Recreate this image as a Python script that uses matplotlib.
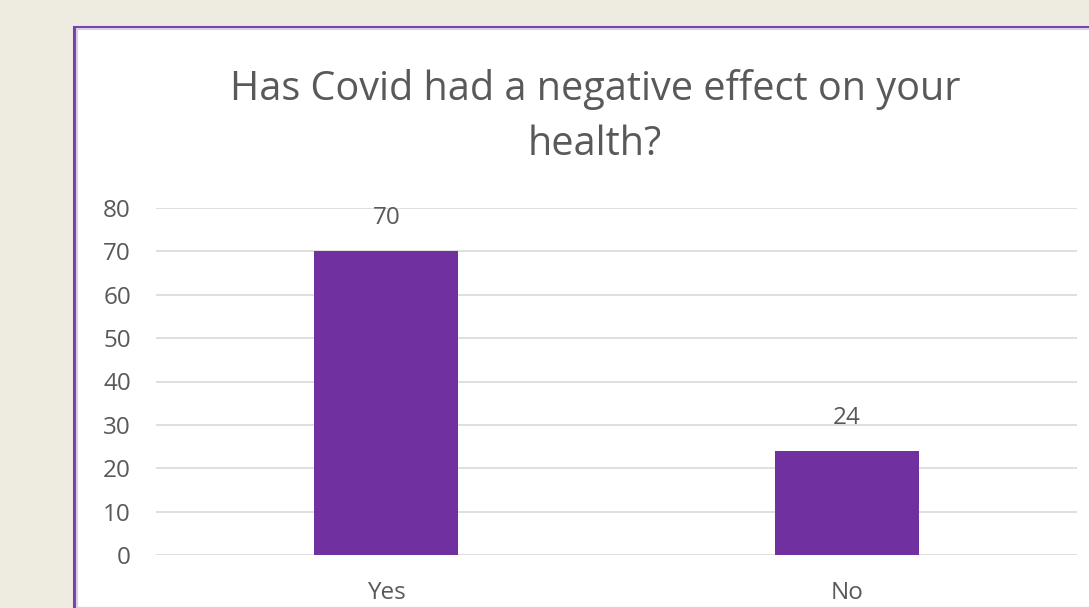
import matplotlib
matplotlib.use("Agg")
import matplotlib.pyplot as plt
from matplotlib.patches import Rectangle

categories = ["Yes", "No"]
counts = [70, 24]
y_ticks = [0, 10, 20, 30, 40, 50, 60, 70, 80]

plt.rcParams['font.family'] = ['Open Sans', 'DejaVu Sans']
text_color = '#595959'
bar_color = '#7030A0'

W, H = 1089, 608
fig = plt.figure(figsize=(W / 100, H / 100), dpi=100)
fig.patch.set_facecolor('#EEEBE0')

# white chart card with purple border, running off right/bottom edges
card = Rectangle((74 / W, 0), 1.2, 1 - 26.5 / H, transform=fig.transFigure,
                 facecolor='white', edgecolor='#7B3FB5', linewidth=2.2, zorder=0)
fig.patches.append(card)
shadow = Rectangle((76.5 / W, 0), 1.2, 1 - 29 / H, transform=fig.transFigure,
                   facecolor='none', edgecolor='#D6D3DC', linewidth=1.5, zorder=0)
fig.patches.append(shadow)

ax = fig.add_axes([156 / W, 1 - 555 / H, (1077 - 156) / W, (555 - 208) / H])
ax.set_facecolor('none')
ax.set_zorder(2)

x = range(len(categories))
ax.bar(x, counts, width=0.313, color=bar_color, zorder=3)
ax.set_xlim(-0.5, 1.5)
ax.set_ylim(0, 80)
ax.set_yticks(y_ticks)
ax.set_xticks(list(x))
ax.set_xticklabels(categories)
ax.grid(axis='y', color='#D9D9D9', linewidth=1.2, zorder=0)
ax.tick_params(axis='both', length=0, colors=text_color, labelsize=17.5)
ax.tick_params(axis='y', pad=18)
ax.tick_params(axis='x', pad=19)
for s in ax.spines.values():
    s.set_visible(False)

for i, v in enumerate(counts):
    ax.text(i, v + 7.6, f"{v}", ha='center', va='center', fontsize=17.5, color=text_color)

title = fig.text(595 / W, 1 - 117 / H, "Has Covid had a negative effect on your\nhealth?",
                 ha='center', va='center', fontsize=28.5, color=text_color, linespacing=1.5)
title.set_zorder(3)

fig.savefig("out.png", dpi=100)
